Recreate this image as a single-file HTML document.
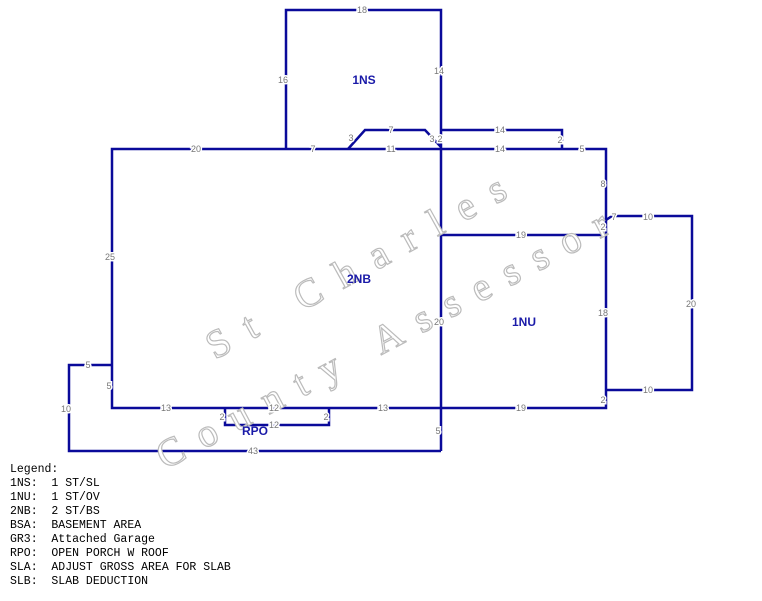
<!DOCTYPE html>
<html><head><style>
body{margin:0;background:#fff;width:762px;height:601px;overflow:hidden}
svg{position:absolute;left:0;top:0}
.l{font-family:"Liberation Sans",sans-serif;font-size:9px;fill:#777;text-anchor:middle;dominant-baseline:central;stroke:#fff;stroke-width:3px;paint-order:stroke}
.n{font-family:"Liberation Sans",sans-serif;font-size:12px;font-weight:bold;fill:#1a1aa8;text-anchor:middle;dominant-baseline:central}
.w{font-family:"Liberation Serif",serif;font-size:40px;fill:#fff;stroke:#bbb;stroke-width:1.2px}
.g{font-family:"Liberation Mono",monospace;font-size:11.5px;fill:#000;white-space:pre}
</style></head><body>
<svg width="762" height="601">
<g fill="none" stroke="#0a0a9a" stroke-width="2.5">
<polyline points="286,149 286,10 441,10 441,149"/>
<rect x="112" y="149" width="494" height="259"/>
<polyline points="348,149 365,130 425,130 441,147"/>
<polyline points="441,130 562,130 562,149"/>
<polyline points="606,220 612,216 692,216 692,390 606,390"/>
<polyline points="441,149 441,451"/>
<polyline points="441,235 606,235"/>
<polyline points="112,365 69,365 69,451 441,451"/>
<polyline points="225,408 225,425 329,425 329,408"/>
</g>
<g transform="rotate(-29 215 360)"><text class="w" x="215" y="360" style="letter-spacing:19px">St Charles</text></g>
<g transform="rotate(-28 165 470)"><text class="w" x="165" y="470" style="letter-spacing:17px">County Assessor</text></g>
<text class="l" x="362" y="10">18</text>
<text class="l" x="283" y="80">16</text>
<text class="l" x="439" y="71">14</text>
<text class="l" x="196" y="149">20</text>
<text class="l" x="313" y="149">7</text>
<text class="l" x="351" y="138">3</text>
<text class="l" x="391" y="130">7</text>
<text class="l" x="391" y="149">11</text>
<text class="l" x="432" y="139">3</text>
<text class="l" x="440" y="139">2</text>
<text class="l" x="500" y="130">14</text>
<text class="l" x="500" y="149">14</text>
<text class="l" x="560" y="140">2</text>
<text class="l" x="582" y="149">5</text>
<text class="l" x="603" y="184">8</text>
<text class="l" x="603" y="227">2</text>
<text class="l" x="614" y="217">7</text>
<text class="l" x="648" y="217">10</text>
<text class="l" x="691" y="304">20</text>
<text class="l" x="648" y="390">10</text>
<text class="l" x="603" y="313">18</text>
<text class="l" x="603" y="400">2</text>
<text class="l" x="521" y="235">19</text>
<text class="l" x="439" y="322">20</text>
<text class="l" x="110" y="257">25</text>
<text class="l" x="88" y="365">5</text>
<text class="l" x="109" y="386">5</text>
<text class="l" x="66" y="409">10</text>
<text class="l" x="166" y="408">13</text>
<text class="l" x="274" y="408">12</text>
<text class="l" x="383" y="408">13</text>
<text class="l" x="521" y="408">19</text>
<text class="l" x="222" y="417">2</text>
<text class="l" x="326" y="417">2</text>
<text class="l" x="274" y="425">12</text>
<text class="l" x="438" y="431">5</text>
<text class="l" x="253" y="451">43</text>
<text class="n" x="364" y="80">1NS</text>
<text class="n" x="359" y="279">2NB</text>
<text class="n" x="524" y="322">1NU</text>
<text class="n" x="255" y="431">RPO</text>
<text class="g" x="10" y="472" xml:space="preserve">Legend:</text>
<text class="g" x="10" y="486" xml:space="preserve">1NS:  1 ST/SL</text>
<text class="g" x="10" y="500" xml:space="preserve">1NU:  1 ST/OV</text>
<text class="g" x="10" y="514" xml:space="preserve">2NB:  2 ST/BS</text>
<text class="g" x="10" y="528" xml:space="preserve">BSA:  BASEMENT AREA</text>
<text class="g" x="10" y="542" xml:space="preserve">GR3:  Attached Garage</text>
<text class="g" x="10" y="556" xml:space="preserve">RPO:  OPEN PORCH W ROOF</text>
<text class="g" x="10" y="570" xml:space="preserve">SLA:  ADJUST GROSS AREA FOR SLAB</text>
<text class="g" x="10" y="584" xml:space="preserve">SLB:  SLAB DEDUCTION</text>
</svg>
</body></html>
